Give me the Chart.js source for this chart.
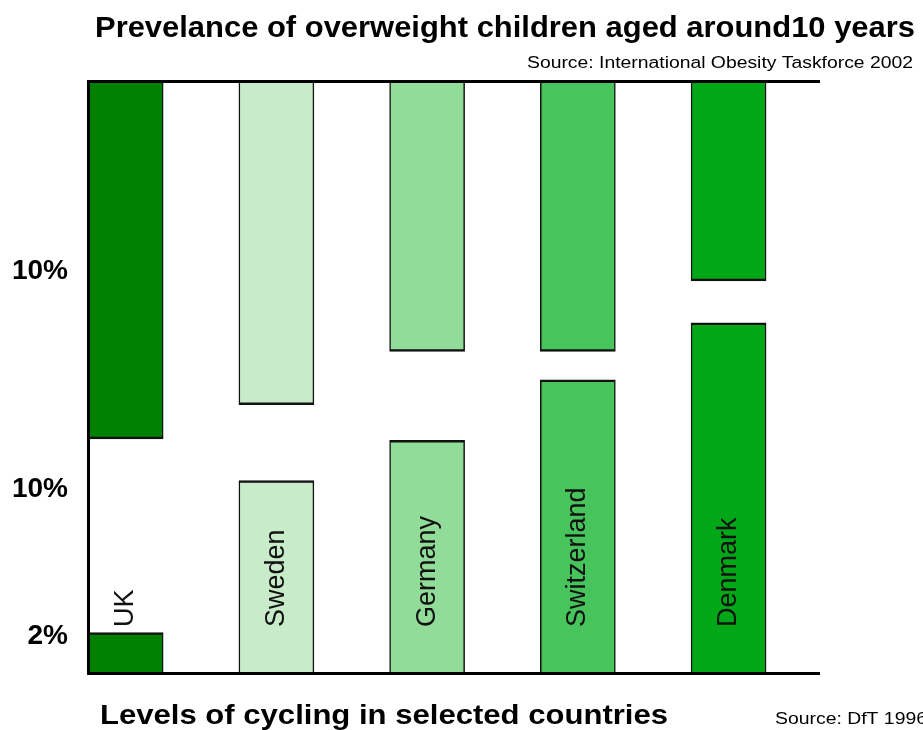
<!DOCTYPE html>
<html>
<head>
<meta charset="utf-8">
<script src="https://cdn.jsdelivr.net/npm/chart.js@4.4.1/dist/chart.umd.min.js"></script>
<style>
    html, body { margin: 0; padding: 0; background: #fff; }
</style>
</head>
<body>
<canvas id="chart" width="923" height="730"></canvas>
<script>
// Chart data
const countries = ['UK', 'Sweden', 'Germany', 'Switzerland', 'Denmark'];
const overweight = [18.8, 17.0, 14.2, 14.2, 10.5];   // % overweight children (hangs from top)
const cycling = [2.2, 10.5, 12.7, 16.0, 19.1];       // % of trips by bike (rises from bottom)
const overweightTicks = [10];
const cyclingTicks = [2, 10];
const barColors = ['#008000', '#c8ecca', '#90dc98', '#48c45c', '#00a818'];

const titleText = 'Prevelance of overweight children aged around10 years';
const topSource = 'Source: International Obesity Taskforce 2002';
const bottomTitle = 'Levels of cycling in selected countries';
const bottomSource = 'Source: DfT 1996';

const FONT = '"Liberation Sans", Arial, sans-serif';

// draws text from its left edge, stretched to a target width
function drawStretched(ctx, text, x, y, font, width) {
    ctx.save();
    ctx.font = font;
    const w = ctx.measureText(text).width;
    ctx.translate(x, y);
    ctx.scale(width / w, 1);
    ctx.textAlign = 'left';
    ctx.textBaseline = 'alphabetic';
    ctx.fillStyle = '#000';
    ctx.fillText(text, 0, 0);
    ctx.restore();
}

const textPlugin = {
    id: 'texts',
    afterDraw(chart) {
        const ctx = chart.ctx;
        drawStretched(ctx, titleText, 95, 37, 'bold 29px ' + FONT, 820);
        drawStretched(ctx, topSource, 527, 68, '16px ' + FONT, 386);
        drawStretched(ctx, bottomTitle, 100, 724, 'bold 28px ' + FONT, 568);
        drawStretched(ctx, bottomSource, 775, 724, '16px ' + FONT, 152);
    }
};

// the inner y axis has no width of its own, so widen its label clip area
const sharedAxisFix = {
    id: 'sharedAxisFix',
    afterLayout(chart) {
        chart.scales.yOw.left = 0;
    }
};

// country names written upwards inside the cycling bars
const countryLabels = {
    id: 'countryLabels',
    afterDatasetsDraw(chart) {
        const ctx = chart.ctx;
        const meta = chart.getDatasetMeta(1);
        meta.data.forEach((bar, i) => {
            ctx.save();
            ctx.translate(bar.x, chart.chartArea.bottom - 46);
            ctx.rotate(-Math.PI / 2);
            ctx.font = '27px ' + FONT;
            ctx.textAlign = 'left';
            ctx.textBaseline = 'middle';
            ctx.fillStyle = '#111';
            ctx.fillText(countries[i], 0, 0);
            ctx.restore();
        });
    }
};

const tickFont = { family: FONT, size: 28, weight: 'bold' };
const axisBorder = { display: true, width: 3, color: '#000', z: 1 };

new Chart(document.getElementById('chart'), {
    type: 'bar',
    data: {
        datasets: [{
            label: 'Overweight children',
            yAxisID: 'yOw',
            data: countries.map((c, i) => ({ x: i, y: overweight[i] })),
            backgroundColor: barColors,
            borderColor: '#111',
            borderWidth: { top: 0, left: 1.5, right: 1.5, bottom: 2.5 }
        }, {
            label: 'Cycling',
            yAxisID: 'yCyc',
            data: countries.map((c, i) => ({ x: i, y: cycling[i] })),
            backgroundColor: barColors,
            borderColor: '#111',
            borderWidth: { top: 2.5, left: 1.5, right: 1.5, bottom: 0 }
        }]
    },
    options: {
        responsive: false,
        animation: false,
        devicePixelRatio: 1,
        grouped: false,
        barThickness: 75,
        maxBarThickness: 75,
        layout: { padding: { top: 81, bottom: 57, left: 0, right: 104 } },
        plugins: {
            legend: { display: false },
            tooltip: { enabled: false },
            title: { display: false }
        },
        scales: {
            x: {
                type: 'linear',
                position: 'bottom',
                offset: false,
                min: -0.25,
                max: 4.6,
                ticks: { display: false },
                grid: { display: false, drawTicks: false, offset: false },
                border: axisBorder,
                afterFit: s => { s.height = 0; }
            },
            xTop: {
                type: 'linear',
                position: 'top',
                offset: false,
                min: -0.25,
                max: 4.6,
                ticks: { display: false },
                grid: { display: false, drawTicks: false, offset: false },
                border: axisBorder,
                afterFit: s => { s.height = 0; }
            },
            yCyc: {
                type: 'linear',
                position: 'left',
                weight: 1,
                min: 0,
                max: 32.3,
                grid: { display: false, drawTicks: false },
                border: axisBorder,
                ticks: {
                    font: tickFont,
                    color: '#000',
                    padding: 20,
                    callback: v => v + '%'
                },
                afterBuildTicks: s => { s.ticks = cyclingTicks.map(v => ({ value: v })); },
                afterFit: s => { s.width = 88; }
            },
            yOw: {
                type: 'linear',
                position: 'left',
                weight: 0,
                reverse: true,
                min: 0,
                max: 31.1,
                grid: { display: false, drawTicks: false },
                border: { display: false },
                ticks: {
                    font: tickFont,
                    color: '#000',
                    padding: 20,
                    callback: v => v + '%'
                },
                afterBuildTicks: s => { s.ticks = overweightTicks.map(v => ({ value: v })); },
                afterFit: s => { s.width = 0; }
            }
        }
    },
    plugins: [sharedAxisFix, countryLabels, textPlugin]
});
</script>
</body>
</html>
